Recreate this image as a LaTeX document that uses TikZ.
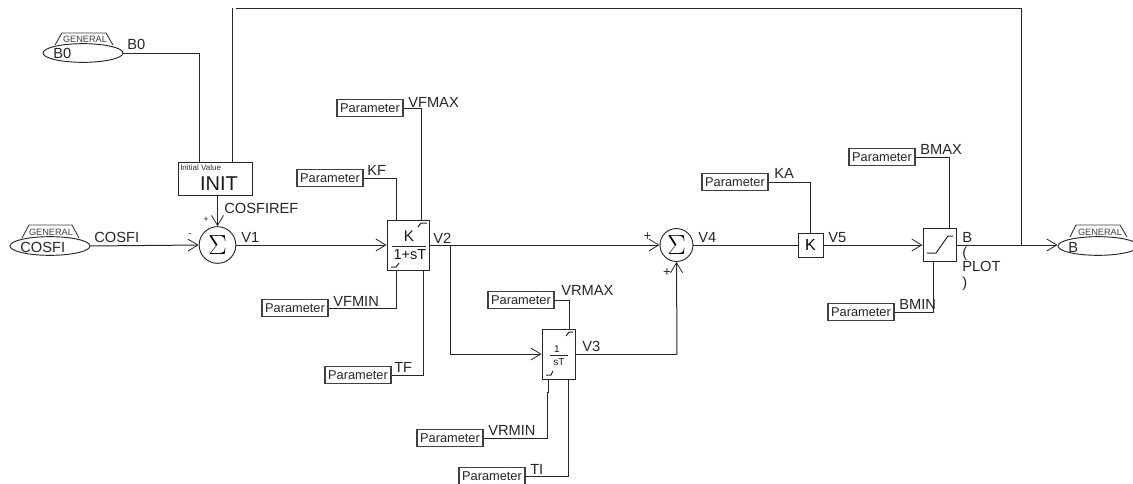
\documentclass[tikz,border=0pt]{standalone}
\usepackage{fontspec}
\setmainfont{Liberation Sans}
\usetikzlibrary{arrows.meta,shapes.geometric,calc}
\newcommand{\fs}[1]{\fontsize{#1}{#1}\selectfont}
\tikzset{
  wire/.style={draw=black!85,line width=0.75pt},
  flow/.style={wire,-{Straight Barb[length=7.5pt,width=9pt,line width=0.6pt]}},
  block/.style={draw=black!85,line width=0.7pt,fill=white,inner sep=0pt,rectangle},
  param/.style={draw=black!75,line width=0.8pt,fill=white,inner sep=0pt,minimum width=49.5pt,minimum height=12.4pt,font=\fs{9.6pt},text=black!85},
  sumnode/.style={circle,draw=black!85,line width=0.7pt,fill=white,inner sep=0pt,font=\fs{22pt}},
  lbl/.style={anchor=base west,inner sep=0pt,font=\fs{11pt},text=black!85},
  sgn/.style={inner sep=0pt,font=\fs{7pt},text=black!80},
  bigsgn/.style={inner sep=0pt,font=\fs{10pt},text=black!85},
  ell/.style={ellipse,draw=black!85,line width=0.7pt,fill=white,inner sep=0pt,minimum width=60pt,minimum height=14pt},
  trap/.style={draw=black!75,line width=0.7pt,fill=white},
  gen/.style={inner sep=0pt,font=\fs{6.9pt},text=black!75}
}
\begin{document}
\begin{tikzpicture}[x=0.75pt,y=-0.75pt]
\useasboundingbox (0,0) rectangle (1133,483);
\clip (0,0) rectangle (1133,483);
% source / sink blocks
\draw[trap] (55,45)--(62,33)--(106,33)--(113,45);
\node[gen] (g1) at (85,39) {GENERAL};
\node[ell] (b0) at (83,53) {};
\node[lbl] (b0t) at (53,58) {B0};
\draw[trap] (22,238)--(29,225)--(72,225)--(79,238);
\node[gen] (g2) at (51,232) {GENERAL};
\node[ell] (cosfi) at (50,246) {};
\node[lbl] (cosfit) at (20,252) {COSFI};
\draw[trap] (1070,237)--(1076,225)--(1120,225)--(1127,237);
\node[gen] (g3) at (1100,232) {GENERAL};
\node[ell] (bout) at (1098,246) {};
\node[lbl] (boutt) at (1068,252) {B};
% blocks
\node[block,minimum width=55.5pt,minimum height=24.8pt] (init) at (215,178.5) {};
\node[anchor=base west,inner sep=0pt,font=\fs{6pt},text=black!80] (initv) at (180,170) {Initial Value};
\node[inner sep=0pt,anchor=base,font=\fs{15pt},text=black!90] (initt) at (219,190) {INIT};
\node[sumnode,minimum size=27.5pt] (s1) at (217.5,245) {$\Sigma$};
\node[sumnode,minimum size=24.7pt] (s2) at (676.5,245) {$\Sigma$};
\node[block,minimum width=31.5pt,minimum height=37.5pt] (k1) at (408,245) {};
\node[block,minimum width=24.8pt,minimum height=37.5pt] (k2) at (558.5,354) {};
\node[block,minimum width=18.8pt,minimum height=18pt,font=\fs{12pt}] (k3) at (810.5,245) {K};
\node[block,minimum width=24.8pt,minimum height=24.8pt] (lim) at (939.5,244.5) {};
% block interiors
\node[inner sep=0pt,anchor=base,font=\fs{11.5pt},text=black!90] (kk) at (409,241) {K};
\draw[wire] (392,246)--(426,246);
\node[inner sep=0pt,anchor=base,font=\fs{10.9pt},text=black!90] (ks) at (410,259) {1+sT};
\draw[wire] (418,227)--(421,223)--(427,223);
\draw[wire] (391,267)--(396,267)--(399,263);
\node[inner sep=0pt,anchor=base,font=\fs{7.5pt},text=black!90] (k21) at (557,352) {1};
\draw[wire] (550,355)--(568,355);
\node[inner sep=0pt,anchor=base,font=\fs{7.5pt},text=black!90] (k22) at (559,365) {sT};
\draw[wire] (566,336)--(569,332)--(573,332);
\draw[wire] (546,375)--(551,375)--(553,371);
\draw[wire] (927,253)--(936,253)--(948,236)--(953,236);
% parameters
\node[param] (pvfmax) at (370,108) {Parameter};
\node[param] (pkf) at (330,178) {Parameter};
\node[param] (pvfmin) at (295,308) {Parameter};
\node[param] (ptf) at (358,375) {Parameter};
\node[param] (pvrmax) at (521,300) {Parameter};
\node[param] (pvrmin) at (450,438) {Parameter};
\node[param] (pti) at (492,476) {Parameter};
\node[param] (pka) at (735,182) {Parameter};
\node[param] (pbmax) at (882,157) {Parameter};
\node[param] (pbmin) at (861,312) {Parameter};
% connectors
\draw[wire] (b0.east) -- (199,53) -- (init.north -| 199,0);
\draw[wire] (init.north -| 232,0) -- (232,8);
\draw[wire] (236,8) -- (1021,8) -- (1021,245);
\draw[flow] (init.south -| s1.north) -- (s1.north);
\draw[flow] (cosfi.east) -- (s1.west);
\draw[flow] (s1.east) -- (s1.east -| k1.west);
\draw[flow] (k1.east) -- (s2.west);
\draw[flow] (450,245) -- (450,354) -- (k2.west);
\draw[wire] (k2.east) -- (677,354);
\draw[flow] (677,354) -- (s2.south);
\draw[wire] (s2.east) -- (k3.west);
\draw[flow] (k3.east) -- (k3.east -| lim.west);
\draw[flow] (lim.east |- 0,245) -- (bout.west |- 0,245);
\draw[wire] (pvfmax.east) -| (k1.north -| 421,0);
\draw[wire] (pkf.east) -| (k1.north -| 396,0);
\draw[wire] (pvfmin.east) -| (k1.south -| 396,0);
\draw[wire] (ptf.east) -| (k1.south -| 423,0);
\draw[wire] (pvrmax.east) -| (k2.north -| 569,0);
\draw[wire] (pvrmin.east) -- (547,438) -- (547,392) -- (548,392) -- (k2.south -| 548,0);
\draw[wire] (pti.east) -| (k2.south -| 568,0);
\draw[wire] (pka.east) -| (k3.north);
\draw[wire] (pbmax.east) -| (lim.north -| 949,0);
\draw[wire] (pbmin.east) -| (lim.south -| 933,0);
% labels
\node[lbl] at (127,49) {B0};
\node[lbl] at (94,242) {COSFI};
\node[lbl] at (224,213) {COSFIREF};
\node[lbl] at (241,242) {V1};
\node[sgn] at (206,220) {+};
\node[sgn] at (190,235) {-};
\node[lbl] at (408,107) {VFMAX};
\node[lbl] at (367,175) {KF};
\node[lbl] at (333,306) {VFMIN};
\node[lbl] at (394,372) {TF};
\node[lbl] at (433,243) {V2};
\node[lbl] at (561,295) {VRMAX};
\node[lbl] at (582,351) {V3};
\node[lbl] at (488,435) {VRMIN};
\node[lbl] at (530,474) {TI};
\node[bigsgn] at (647.5,237) {+};
\node[bigsgn] at (667,272.5) {+};
\node[lbl] at (698,242) {V4};
\node[lbl] at (774,178) {KA};
\node[lbl] at (828,242) {V5};
\node[lbl] at (920,154) {BMAX};
\node[lbl] at (899,309) {BMIN};
\node[lbl] at (962,242) {B};
\node[lbl] at (962,257) {(};
\node[lbl] at (962,271) {PLOT};
\node[lbl] at (962,287) {)};
\end{tikzpicture}
\end{document}
